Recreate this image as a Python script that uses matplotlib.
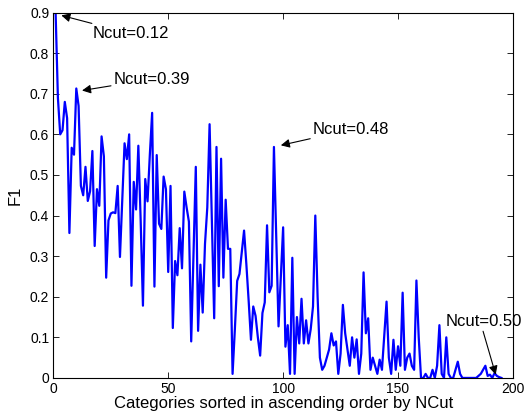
import matplotlib
matplotlib.use("Agg")
import matplotlib.pyplot as plt

plt.rcParams['font.family'] = ['Liberation Sans', 'DejaVu Sans']

f1 = [0.90, 0.69, 0.60, 0.61, 0.68, 0.64, 0.357, 0.567, 0.55, 0.713,
      0.67, 0.473, 0.45, 0.52, 0.436, 0.46, 0.559, 0.325, 0.465, 0.424,
      0.595, 0.546, 0.247, 0.388, 0.405, 0.408, 0.406, 0.473, 0.298, 0.44,
      0.578, 0.539, 0.60, 0.227, 0.483, 0.415, 0.572, 0.39, 0.178, 0.49,
      0.435, 0.55, 0.653, 0.225, 0.549, 0.38, 0.367, 0.496, 0.465, 0.261,
      0.473, 0.123, 0.288, 0.253, 0.369, 0.27, 0.459, 0.42, 0.385, 0.09,
      0.30, 0.52, 0.116, 0.279, 0.161, 0.33, 0.42, 0.625, 0.39, 0.147,
      0.569, 0.226, 0.54, 0.247, 0.439, 0.318, 0.318, 0.01, 0.12, 0.239,
      0.256, 0.31, 0.363, 0.28, 0.19, 0.094, 0.176, 0.153, 0.10, 0.055,
      0.16, 0.186, 0.376, 0.211, 0.227, 0.569, 0.35, 0.127, 0.25, 0.371,
      0.077, 0.13, 0.01, 0.296, 0.01, 0.15, 0.085, 0.195, 0.085, 0.142,
      0.085, 0.12, 0.176, 0.40, 0.2, 0.05, 0.02, 0.03, 0.05, 0.07,
      0.11, 0.08, 0.09, 0.01, 0.06, 0.18, 0.11, 0.07, 0.03, 0.10,
      0.05, 0.095, 0.01, 0.06, 0.26, 0.11, 0.147, 0.02, 0.05, 0.03,
      0.01, 0.045, 0.02, 0.103, 0.188, 0.05, 0.01, 0.094, 0.02, 0.078,
      0.03, 0.21, 0.02, 0.05, 0.06, 0.03, 0.02, 0.24, 0.10, 0.0,
      0.0, 0.01, 0.0, 0.0, 0.02, 0.0, 0.03, 0.13, 0.01, 0.0,
      0.10, 0.01, 0.0, 0.0, 0.02, 0.04, 0.01, 0.0, 0.0, 0.0,
      0.0, 0.0, 0.0, 0.0, 0.005, 0.01, 0.02, 0.03, 0.005, 0.008,
      0.0, 0.012, 0.005, 0.002, 0.0]
ranks = list(range(1, len(f1) + 1))

xticks = [0, 50, 100, 150, 200]
yticks = [0, 0.1, 0.2, 0.3, 0.4, 0.5, 0.6, 0.7, 0.8, 0.9]
ytick_labels = ['0', '0.1', '0.2', '0.3', '0.4', '0.5', '0.6', '0.7', '0.8', '0.9']

# annotations: label, text anchor (x, y), arrow tip (x, y)
ann_labels = ['Ncut=0.12', 'Ncut=0.39', 'Ncut=0.48']
ann_text = [(17.2, 0.848), (26.3, 0.736), (113.0, 0.612)]
ann_tip = [(3.5, 0.893), (12.5, 0.708), (99.0, 0.573)]

fig = plt.figure(figsize=(5.31, 4.19), dpi=100)
ax = fig.add_axes([0.1004, 0.098, 0.8656, 0.872])
ax.plot(ranks, f1, color='#0000ff', lw=1.6, clip_on=True)
ax.set_xlim(0, 200)
ax.set_ylim(0, 0.9)
ax.set_xticks(xticks)
ax.set_yticks(yticks)
ax.set_yticklabels(ytick_labels)
ax.tick_params(direction='in', top=True, right=True, labelsize=10, length=4, width=0.6, pad=3)
for s in ax.spines.values():
    s.set_linewidth(0.8)
ax.set_xlabel('Categories sorted in ascending order by NCut', fontsize=12, labelpad=0)
ax.set_ylabel('F1', fontsize=12, labelpad=5)

for lab, (tx, ty), (px, py) in zip(ann_labels, ann_text, ann_tip):
    ax.annotate(lab, xy=(px, py), xytext=(tx, ty), fontsize=12,
                ha='left', va='center',
                arrowprops=dict(arrowstyle='-|>', color='k', lw=0.8,
                                mutation_scale=13, shrinkA=0, shrinkB=0))

ax.annotate('', xy=(192.5, 0.008), xytext=(187.0, 0.115),
            arrowprops=dict(arrowstyle='-|>', color='k', lw=0.8,
                            mutation_scale=13, shrinkA=0, shrinkB=0),
            annotation_clip=False)
ax.text(170.8, 0.139, 'Ncut=0.50', fontsize=12, ha='left', va='center', clip_on=False)

fig.savefig('out.png', dpi=100)
